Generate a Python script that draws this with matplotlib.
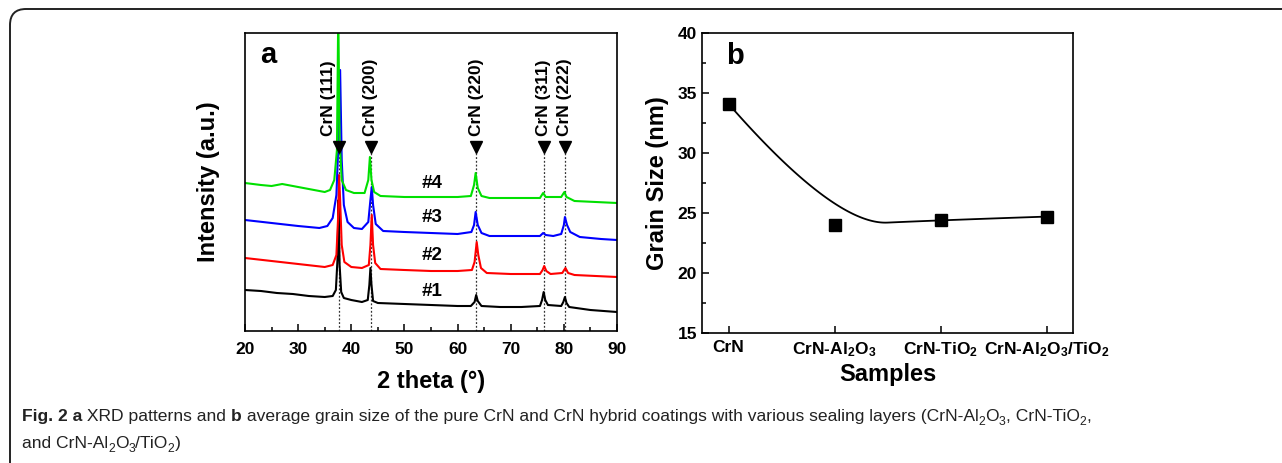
# XRD patterns (a) and grain size (b) of CrN coatings
import numpy as np
import matplotlib
matplotlib.use("Agg")
import matplotlib.pyplot as plt
from matplotlib.patches import FancyBboxPatch
from matplotlib.transforms import IdentityTransform
from matplotlib.ticker import MultipleLocator

plt.rcParams['font.family'] = ['Liberation Sans', 'DejaVu Sans']
plt.rcParams['font.weight'] = 'bold'
plt.rcParams['mathtext.fontset'] = 'custom'
plt.rcParams['mathtext.rm'] = 'Liberation Sans:bold'
plt.rcParams['mathtext.bf'] = 'Liberation Sans:bold'
plt.rcParams['mathtext.default'] = 'bf'

## XRD data (2 theta in deg, intensity in a.u.)
tt_1 = [20, 23, 26, 29, 32, 35, 36.5, 37.1, 37.4, 37.6, 37.8, 38.1, 38.6, 40, 42, 43.1, 43.4, 43.6,
        43.8, 44.1, 45, 50, 55, 60, 62.5, 63.2, 63.5, 63.8, 64.5, 68, 72, 75.5, 75.9, 76.2, 76.5, 77,
        79.5, 79.9, 80.2, 80.5, 81, 85, 90]
int_1 = [41, 40, 38, 37, 35, 34, 35, 41, 71, 131, 66, 39, 33, 31, 29, 31, 46, 63,
         46, 30, 28, 27, 26, 25, 25, 29, 36, 30, 25, 24, 24, 25, 31, 39, 31, 26,
         25, 29, 34, 28, 24, 21, 19]

tt_2 = [20, 25, 30, 35, 36.5, 37.2, 37.5, 37.7, 37.9, 38.2, 38.7, 40, 42, 43.3, 43.6, 43.85, 44.1,
        44.5, 45.5, 50, 55, 60, 62.7, 63.2, 63.6, 63.9, 64.4, 65.5, 70, 75.5, 76.0, 76.3, 76.7, 77.5,
        79.7, 80.3, 80.8, 82, 86, 90]
int_2 = [73, 70, 67, 64, 66, 76, 111, 156, 131, 86, 69, 64, 63, 66, 86, 116, 86,
         68, 62, 61, 60, 60, 61, 69, 89, 76, 63, 58, 57, 57, 61, 65, 60, 57,
         58, 63, 58, 56, 55, 54]

tt_3 = [20, 25, 30, 34, 35.5, 36.5, 37.2, 37.6, 37.9, 38.2, 38.6, 39.3, 40.5, 42, 43.2, 43.6, 43.85,
        44.1, 44.6, 46, 50, 55, 60, 62.6, 63.1, 63.4, 63.8, 64.5, 66, 70, 75.5, 76.1, 76.6, 78,
        79.5, 80.0, 80.2, 80.6, 81.2, 83, 87, 90]
int_3 = [111, 108, 105, 103, 105, 113, 136, 191, 261, 171, 126, 109, 103, 102, 109, 131, 144,
         126, 107, 100, 99, 98, 97, 99, 106, 119, 106, 98, 95, 95, 95, 98, 96, 95,
         97, 106, 114, 106, 99, 94, 92, 91]

tt_4 = [20, 23, 25, 27, 29, 32, 35, 36, 36.8, 37.3, 37.55, 37.8, 38.2, 39, 40.5, 42.5, 43.2, 43.5,
        43.8, 44.3, 45.5, 50, 55, 60, 62.5, 63.1, 63.4, 63.8, 64.5, 66, 70, 75.5, 76.1, 76.6, 79.5,
        80.1, 80.5, 82, 86, 90]
int_4 = [148, 146, 145, 147, 145, 142, 139, 141, 151, 181, 320, 191, 151, 141, 138, 138, 151, 174,
         151, 139, 135, 134, 134, 134, 135, 146, 158, 143, 135, 133, 133, 133, 138, 134, 134,
         139, 134, 130, 129, 128]

patterns = [(tt_1, int_1, 'black', '#1', 39), (tt_2, int_2, 'red', '#2', 75),
            (tt_3, int_3, 'blue', '#3', 113), (tt_4, int_4, '#00e000', '#4', 147)]

peak_pos = [37.6, 43.7, 63.5, 76.2, 80.2]
peak_labels = ['CrN (111)', 'CrN (200)', 'CrN (220)', 'CrN (311)', 'CrN (222)']
label_shift = [-1.9, 0, 0, 0, 0]
marker_level = 184

## grain size data
samples = ['CrN', 'CrN-Al$_2$O$_3$', 'CrN-TiO$_2$', 'CrN-Al$_2$O$_3$/TiO$_2$']
grain_size = [34.1, 24.0, 24.4, 24.7]

fig = plt.figure(figsize=(12.82, 4.63), dpi=100)

## outer rounded frame (top-left corner visible, rest runs off the figure)
frame = FancyBboxPatch((10, -100), 1400, 463 - 9 + 100, boxstyle="round,pad=0,rounding_size=16",
                       transform=IdentityTransform(), fill=False, edgecolor='#222222', linewidth=1.4)
fig.add_artist(frame)

## panel a
ax1 = fig.add_axes([245 / 1282, 132 / 463, 372 / 1282, 298 / 463])
for tt, ii, col, lab, ly in patterns:
    ax1.plot(tt, ii, color=col, linewidth=1.5)
    ax1.text(55.2, ly, lab, ha='center', va='center', fontsize=13.5, fontweight='bold')
for pos, lab, dx in zip(peak_pos, peak_labels, label_shift):
    ax1.plot([pos, pos], [0, marker_level], linestyle=(0, (1.5, 1.5)), color='#333333', linewidth=0.9, zorder=0)
    ax1.plot(pos, marker_level, marker='v', color='black', markersize=8, zorder=5)
    ax1.text(pos + dx, marker_level + 11, lab, rotation=90, ha='center', va='bottom', fontsize=12.5, fontweight='bold')
ax1.set_xlim(20, 90)
ax1.set_ylim(0, 298)
ax1.xaxis.set_major_locator(MultipleLocator(10))
ax1.xaxis.set_minor_locator(MultipleLocator(5))
ax1.set_yticks([])
ax1.tick_params(axis='x', which='both', direction='in', top=False, labelsize=12.5, width=1.1)
ax1.tick_params(axis='x', which='major', length=5, pad=8)
ax1.tick_params(axis='x', which='minor', length=3)
ax1.set_xlabel('2 theta (°)', fontsize=17, fontweight='bold', labelpad=9)
ax1.set_ylabel('Intensity (a.u.)', fontsize=17, fontweight='bold', labelpad=18)
ax1.text(0.04, 0.925, 'a', transform=ax1.transAxes, fontsize=21, fontweight='bold', ha='left', va='center')
for sp in ax1.spines.values():
    sp.set_linewidth(1.2)

## panel b
ax2 = fig.add_axes([702 / 1282, 130 / 463, 371 / 1282, 300 / 463])
xs = np.arange(len(samples))
pts = np.column_stack([xs, grain_size]).astype(float)
# quadratic B-spline using the data points as control points
curve = []
n = len(pts)
for i in range(1, n - 1):
    start = pts[0] if i == 1 else (pts[i - 1] + pts[i]) / 2
    end = pts[n - 1] if i == n - 2 else (pts[i] + pts[i + 1]) / 2
    s = np.linspace(0, 1, 60)[:, None]
    curve.append((1 - s) ** 2 * start + 2 * s * (1 - s) * pts[i] + s ** 2 * end)
curve = np.vstack(curve)
ax2.plot(curve[:, 0], curve[:, 1], color='black', linewidth=1.3)
ax2.plot(xs, grain_size, 's', color='black', markersize=8.5)
ax2.set_xlim(-0.25, len(samples) - 0.75)
ax2.set_ylim(15, 40)
ax2.set_xticks(xs)
ax2.set_xticklabels(samples)
ax2.yaxis.set_major_locator(MultipleLocator(5))
ax2.yaxis.set_minor_locator(MultipleLocator(2.5))
ax2.tick_params(which='both', direction='in', top=False, right=False, labelsize=12.5, width=1.1)
ax2.tick_params(which='major', length=5)
ax2.tick_params(which='minor', length=3)
ax2.tick_params(axis='x', pad=5)
ax2.tick_params(axis='x', which='minor', bottom=False)
ax2.set_xlabel('Samples', fontsize=17, fontweight='bold', labelpad=3)
ax2.set_ylabel('Grain Size (nm)', fontsize=17, fontweight='bold', labelpad=6)
ax2.text(0.065, 0.925, 'b', transform=ax2.transAxes, fontsize=21, fontweight='bold', ha='left', va='center')
for sp in ax2.spines.values():
    sp.set_linewidth(1.2)

## caption, drawn as runs of text
cap_font = ['Liberation Sans Narrow', 'Liberation Sans', 'DejaVu Sans']
line1 = [('Fig. 2 a', 'bold', False), (' XRD patterns and ', 'normal', False), ('b', 'bold', False),
         (' average grain size of the pure CrN and CrN hybrid coatings with various sealing layers (CrN-Al', 'normal', False),
         ('2', 'normal', True), ('O', 'normal', False), ('3', 'normal', True), (', CrN-TiO', 'normal', False),
         ('2', 'normal', True), (',', 'normal', False)]
line2 = [('and CrN-Al', 'normal', False), ('2', 'normal', True), ('O', 'normal', False), ('3', 'normal', True),
         ('/TiO', 'normal', False), ('2', 'normal', True), (')', 'normal', False)]

renderer = fig.canvas.get_renderer()


def draw_runs(x_px, base_px, runs, size=12.6):
    x = x_px
    for txt, wt, sub in runs:
        fs = size * 0.7 if sub else size
        y = base_px + (4 if sub else 0)
        t = fig.text(x / 1282, 1 - y / 463, txt, fontsize=fs, fontweight=wt, family=cap_font,
                     color='#222222', ha='left', va='baseline')
        bb = t.get_window_extent(renderer)
        x += bb.width


draw_runs(22, 421, line1)
draw_runs(22, 448, line2)

fig.savefig('out.png', dpi=100)
